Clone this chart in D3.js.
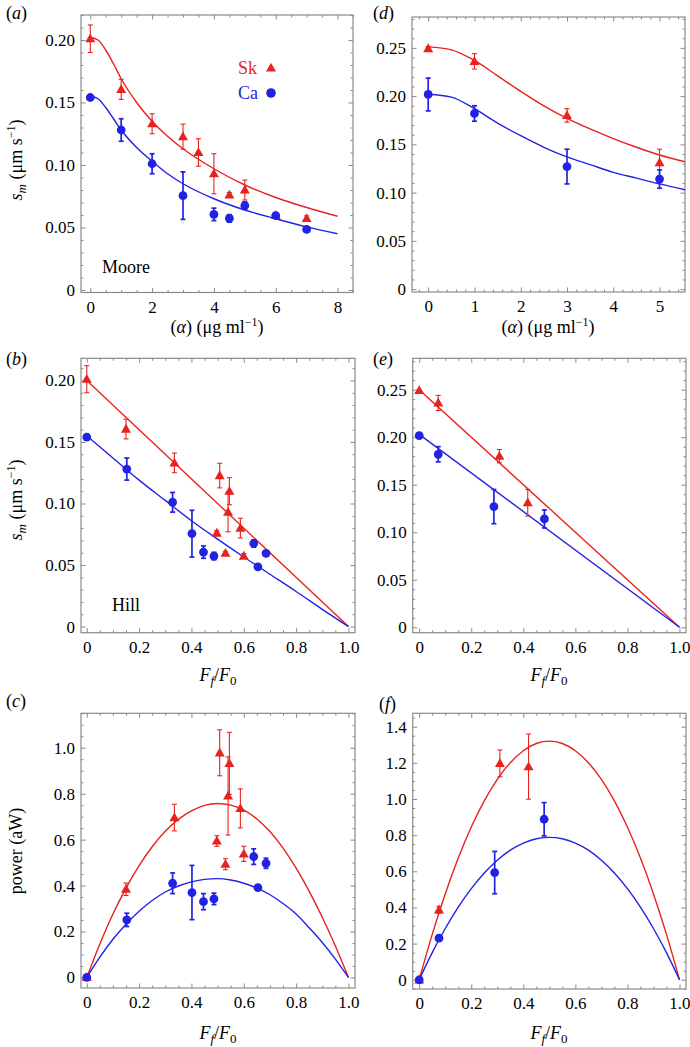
<!DOCTYPE html>
<html><head><meta charset="utf-8">
<script src="https://cdn.jsdelivr.net/npm/d3@7"></script>
<style>
body{margin:0;background:#fff}
svg{display:block}
text{font-family:"Liberation Serif","Times New Roman",serif;fill:#000}
</style>
</head><body>
<svg id="chart" width="690" height="1047" font-family="Liberation Serif"></svg>
<script>
// ---------- DATA ----------
// Panel (a): Moore, speed vs alpha-actinin concentration
const aSkAlpha = [0, 1, 2, 3, 3.5, 4, 4.5, 5, 6, 7];
const skSpeed  = [0.201, 0.1605, 0.133, 0.1227, 0.110, 0.093, 0.076, 0.080, 0.0596, 0.0573];
const skSpeedErr = [0.011, 0.008, 0.008, 0.010, 0.011, 0.016, 0.002, 0.008, 0.0015, 0.002];
const aCaAlpha = [0, 1, 2, 3, 4, 4.5, 5, 6, 7];
const caSpeed  = [0.154, 0.128, 0.101, 0.0755, 0.0605, 0.0573, 0.0675, 0.0595, 0.0485];
const caSpeedErr = [0.001, 0.009, 0.008, 0.019, 0.005, 0.003, 0.003, 0.002, 0.002];
const aCurveAlpha = [0, 0.25, 0.5, 0.75, 1, 1.5, 2, 2.5, 3, 4, 5, 6, 7, 8];
const aSkCurve = [0.202, 0.200, 0.192, 0.181, 0.169, 0.150, 0.135, 0.123, 0.113, 0.097, 0.084, 0.074, 0.066, 0.059];
const aCaCurve = [0.155, 0.153, 0.146, 0.137, 0.128, 0.114, 0.103, 0.093, 0.085, 0.073, 0.064, 0.057, 0.0505, 0.045];

// Panel (b): Hill, speed vs Ff/F0
const bSkF = [0, 0.15, 0.335, 0.508, 0.545, 0.54, 0.497, 0.587, 0.53, 0.6];
const bCaF = [0, 0.153, 0.328, 0.402, 0.446, 0.486, 0.638, 0.685, 0.654];
const bSkLineF = [0, 1];
const bSkLine = [0.2, 0];
const bCaCurveF = [0, 0.1, 0.2, 0.3, 0.4, 0.5, 0.6, 0.7, 0.8, 0.9, 1.0];
const bCaCurve = [0.155, 0.137, 0.119, 0.1025, 0.086, 0.071, 0.0565, 0.0425, 0.0285, 0.014, 0];

// Panel (c): power vs Ff/F0
const cSkPower = [0, 0.384, 0.696, 0.978, 0.932, 0.79, 0.594, 0.736, 0.493, 0.538];
const cSkPowerErr = [0.005, 0.027, 0.058, 0.10, 0.135, 0.17, 0.023, 0.085, 0.024, 0.033];
const cCaPower = [0, 0.2507, 0.41, 0.3696, 0.33, 0.342, 0.526, 0.497, 0.391];
const cCaPowerErr = [0.005, 0.029, 0.045, 0.118, 0.035, 0.025, 0.034, 0.022, 0.01];
const powerCurveF = [0, 0.05, 0.1, 0.15, 0.2, 0.25, 0.3, 0.35, 0.4, 0.45, 0.5, 0.55, 0.6, 0.65, 0.7, 0.75, 0.8, 0.85, 0.9, 0.95, 1.0];
const cSkCurve = [0, 0.146, 0.276, 0.389, 0.487, 0.569, 0.636, 0.688, 0.725, 0.749, 0.757, 0.75, 0.728, 0.69, 0.635, 0.563, 0.476, 0.375, 0.262, 0.137, 0];
const cCaCurve = [0, 0.088, 0.166, 0.232, 0.288, 0.335, 0.372, 0.398, 0.416, 0.427, 0.430, 0.424, 0.410, 0.389, 0.36, 0.322, 0.276, 0.216, 0.152, 0.080, 0];

// Panel (d): Moore, second data set
const dAlpha = [0, 1, 3, 5];
const dSkSpeed = [0.2493, 0.236, 0.180, 0.131];
const dSkSpeedErr = [0.002, 0.008, 0.007, 0.014];
const dCaSpeed = [0.2017, 0.182, 0.127, 0.114];
const dCaSpeedErr = [0.017, 0.008, 0.018, 0.0095];
const dCurveAlpha = [0, 0.5, 1, 1.5, 2, 2.5, 3, 3.5, 4, 4.5, 5, 5.55];
const dSkCurve = [0.251, 0.248, 0.237, 0.221, 0.205, 0.190, 0.177, 0.166, 0.156, 0.147, 0.139, 0.132];
const dCaCurve = [0.202, 0.199, 0.187, 0.172, 0.159, 0.147, 0.137, 0.129, 0.121, 0.115, 0.109, 0.103];

// Panel (e): Hill, second data set
const eSkF = [0, 0.073, 0.308, 0.417];
const eCaF = [0, 0.073, 0.287, 0.481];
const eSkSpeedErr = [0, 0.008, 0.007, 0.014];
const eCaSpeedErr = [0, 0.008, 0.018, 0.0095];
const eLineF = [0, 1];
const eSkLine = [0.25, 0];
const eCaLine = [0.203, 0];

// Panel (f): power, second data set
const fSkF = [0, 0.076, 0.31, 0.42];
const fCaF = [0, 0.076, 0.29, 0.48];
const fSkPower = [0, 0.387, 1.197, 1.179];
const fSkPowerErr = [0.005, 0.019, 0.074, 0.18];
const fCaPower = [0, 0.23, 0.593, 0.888];
const fCaPowerErr = [0.005, 0.01, 0.117, 0.092];
const fSkCurve = [0, 0.251, 0.475, 0.673, 0.845, 0.99, 1.109, 1.201, 1.267, 1.307, 1.32, 1.307, 1.267, 1.201, 1.109, 0.99, 0.845, 0.673, 0.475, 0.251, 0];
const fCaCurve = [0, 0.150, 0.2835, 0.402, 0.504, 0.591, 0.6615, 0.717, 0.756, 0.78, 0.7875, 0.78, 0.756, 0.717, 0.6615, 0.591, 0.504, 0.402, 0.2835, 0.150, 0];

// Tick values
const alphaTicksA = [0, 2, 4, 6, 8];
const alphaTicksD = [0, 1, 2, 3, 4, 5];
const fracTicks = [0, 0.2, 0.4, 0.6, 0.8, 1.0];
const speedTicksA = [0, 0.05, 0.10, 0.15, 0.20];
const speedTicksD = [0, 0.05, 0.10, 0.15, 0.20, 0.25];
const powerTicksC = [0, 0.2, 0.4, 0.6, 0.8, 1.0];
const powerTicksF = [0, 0.2, 0.4, 0.6, 0.8, 1.0, 1.2, 1.4];

// ---------- DRAWING ----------
const RED = "#e8221e", BLUE = "#2222e4", FRAME = "#8a8a8a";
const SERIF = '"Liberation Serif","Times New Roman",serif';
const svg = d3.select("#chart");
svg.append("rect").attr("width", 690).attr("height", 1047).attr("fill", "#fff");

const f2 = v => v === 0 ? "0" : d3.format(".2f")(v);
const f1 = v => v === 0 ? "0" : d3.format(".1f")(v);
const f0 = d3.format("d");

function minorVals(domain, step, majors) {
  const out = [];
  const s = Math.ceil(domain[0] / step - 1e-9), e = Math.floor(domain[1] / step + 1e-9);
  for (let i = s; i <= e; i++) {
    const v = +(i * step).toFixed(6);
    if (!majors.some(m => Math.abs(m - v) < 1e-9)) out.push(v);
  }
  return out;
}

function panel(cfg) {
  const g = svg.append("g");
  const x = d3.scaleLinear().domain(cfg.xd).range([cfg.L, cfg.R]);
  const y = d3.scaleLinear().domain(cfg.yd).range([cfg.B, cfg.T]);
  const xMin = minorVals(cfg.xd, cfg.xStep, cfg.xTicks);
  const yMin = minorVals(cfg.yd, cfg.yStep, cfg.yTicks);
  const MAJ = 4.5, MIN = 2.5;
  function ax(gen, tr, vals, size, fmt, pad) {
    const a = g.append("g").attr("transform", tr)
      .call(gen.tickValues(vals).tickSize(-size).tickSizeOuter(0).tickPadding(pad).tickFormat(fmt));
    a.attr("font-family", SERIF).attr("font-size", 17);
    a.select(".domain").remove();
    a.selectAll("line").attr("stroke", FRAME).attr("stroke-width", 1);
    a.selectAll("text").style("font-family", SERIF).style("font-size", "17px").attr("fill", "#000");
    return a;
  }
  const none = () => "";
  ax(d3.axisBottom(x), `translate(0,${cfg.B})`, cfg.xTicks, MAJ, cfg.xFmt, 8);
  ax(d3.axisBottom(x), `translate(0,${cfg.B})`, xMin, MIN, none, 8);
  ax(d3.axisTop(x), `translate(0,${cfg.T})`, cfg.xTicks, MAJ, none, 3);
  ax(d3.axisTop(x), `translate(0,${cfg.T})`, xMin, MIN, none, 3);
  ax(d3.axisLeft(y), `translate(${cfg.L},0)`, cfg.yTicks, MAJ, cfg.yFmt, 6);
  ax(d3.axisLeft(y), `translate(${cfg.L},0)`, yMin, MIN, none, 6);
  ax(d3.axisRight(y), `translate(${cfg.R},0)`, cfg.yTicks, MAJ, none, 3);
  ax(d3.axisRight(y), `translate(${cfg.R},0)`, yMin, MIN, none, 3);
  g.append("rect").attr("x", cfg.L).attr("y", cfg.T).attr("width", cfg.R - cfg.L).attr("height", cfg.B - cfg.T)
    .attr("fill", "none").attr("stroke", FRAME).attr("stroke-width", 1.2);

  const clipId = "clip" + cfg.id;
  svg.append("clipPath").attr("id", clipId).append("rect")
    .attr("x", cfg.L).attr("y", cfg.T).attr("width", cfg.R - cfg.L).attr("height", cfg.B - cfg.T);
  const plot = g.append("g").attr("clip-path", `url(#${clipId})`);

  // curves
  cfg.curves.forEach(c => {
    const pts = c.xs.map((v, i) => [v, c.ys[i]]);
    plot.append("path").datum(pts)
      .attr("d", d3.line().x(d => x(d[0])).y(d => y(d[1])).curve(d3.curveMonotoneX))
      .attr("fill", "none").attr("stroke", c.color).attr("stroke-width", 1.4);
  });
  // points
  cfg.series.forEach(s => {
    const sg = g.append("g");
    s.xs.forEach((xv, i) => {
      const px = x(xv);
      const e = s.err[i];
      if (e > 0) {
        const y1 = y(s.ys[i] - e), y2 = y(s.ys[i] + e);
        const w = s.shape === "tri" ? 1.1 : 1.7;
        sg.append("line").attr("x1", px).attr("x2", px).attr("y1", y1).attr("y2", y2)
          .attr("stroke", s.color).attr("stroke-width", w);
        [y1, y2].forEach(yy => sg.append("line").attr("x1", px - 2.5).attr("x2", px + 2.5)
          .attr("y1", yy).attr("y2", yy).attr("stroke", s.color).attr("stroke-width", w));
      }
    });
    s.xs.forEach((xv, i) => {
      const px = x(xv), py = y(s.ys[i]);
      if (s.shape === "tri") {
        sg.append("path").attr("d", `M${px - 5},${py + 3.6}L${px + 5},${py + 3.6}L${px},${py - 5.2}Z`).attr("fill", s.color);
      } else {
        sg.append("circle").attr("cx", px).attr("cy", py).attr("r", 4.4).attr("fill", s.color);
      }
    });
  });
  return {x, y, g};
}

// ---------- PANELS ----------
panel({id: "a", L: 81, R: 353, T: 15, B: 292.5, xd: [-0.3, 8.5], yd: [-0.002, 0.22],
  xTicks: alphaTicksA, xStep: 0.5, xFmt: f0, yTicks: speedTicksA, yStep: 0.01, yFmt: f2,
  curves: [{xs: aCurveAlpha, ys: aSkCurve, color: RED}, {xs: aCurveAlpha, ys: aCaCurve, color: BLUE}],
  series: [{xs: aSkAlpha, ys: skSpeed, err: skSpeedErr, color: RED, shape: "tri"},
           {xs: aCaAlpha, ys: caSpeed, err: caSpeedErr, color: BLUE, shape: "circ"}]});

panel({id: "d", L: 412, R: 685, T: 17, B: 292, xd: [-0.35, 5.55], yd: [-0.003, 0.282],
  xTicks: alphaTicksD, xStep: 0.2, xFmt: f0, yTicks: speedTicksD, yStep: 0.01, yFmt: f2,
  curves: [{xs: dCurveAlpha, ys: dSkCurve, color: RED}, {xs: dCurveAlpha, ys: dCaCurve, color: BLUE}],
  series: [{xs: dAlpha, ys: dSkSpeed, err: dSkSpeedErr, color: RED, shape: "tri"},
           {xs: dAlpha, ys: dCaSpeed, err: dCaSpeedErr, color: BLUE, shape: "circ"}]});

panel({id: "b", L: 81, R: 355, T: 358.3, B: 632.7, xd: [-0.022, 1.025], yd: [-0.005, 0.218],
  xTicks: fracTicks, xStep: 0.05, xFmt: f1, yTicks: speedTicksA, yStep: 0.01, yFmt: f2,
  curves: [{xs: bSkLineF, ys: bSkLine, color: RED}, {xs: bCaCurveF, ys: bCaCurve, color: BLUE}],
  series: [{xs: bSkF, ys: skSpeed, err: skSpeedErr, color: RED, shape: "tri"},
           {xs: bCaF, ys: caSpeed, err: caSpeedErr, color: BLUE, shape: "circ"}]});

panel({id: "e", L: 412.7, R: 686, T: 358.3, B: 632.7, xd: [-0.025, 1.025], yd: [-0.0057, 0.283],
  xTicks: fracTicks, xStep: 0.05, xFmt: f1, yTicks: speedTicksD, yStep: 0.01, yFmt: f2,
  curves: [{xs: eLineF, ys: eSkLine, color: RED}, {xs: eLineF, ys: eCaLine, color: BLUE}],
  series: [{xs: eSkF, ys: dSkSpeed, err: eSkSpeedErr, color: RED, shape: "tri"},
           {xs: eCaF, ys: dCaSpeed, err: eCaSpeedErr, color: BLUE, shape: "circ"}]});

panel({id: "c", L: 81, R: 355, T: 713.3, B: 988, xd: [-0.022, 1.025], yd: [-0.046, 1.15],
  xTicks: fracTicks, xStep: 0.05, xFmt: f1, yTicks: powerTicksC, yStep: 0.05, yFmt: f1,
  curves: [{xs: powerCurveF, ys: cSkCurve, color: RED}, {xs: powerCurveF, ys: cCaCurve, color: BLUE}],
  series: [{xs: bSkF, ys: cSkPower, err: cSkPowerErr, color: RED, shape: "tri"},
           {xs: bCaF, ys: cCaPower, err: cCaPowerErr, color: BLUE, shape: "circ"}]});

panel({id: "f", L: 412.7, R: 686, T: 713.3, B: 989, xd: [-0.025, 1.025], yd: [-0.051, 1.474],
  xTicks: fracTicks, xStep: 0.05, xFmt: f1, yTicks: powerTicksF, yStep: 0.05, yFmt: f1,
  curves: [{xs: powerCurveF, ys: fSkCurve, color: RED}, {xs: powerCurveF, ys: fCaCurve, color: BLUE}],
  series: [{xs: fSkF, ys: fSkPower, err: fSkPowerErr, color: RED, shape: "tri"},
           {xs: fCaF, ys: fCaPower, err: fCaPowerErr, color: BLUE, shape: "circ"}]});

// ---------- TEXT ----------
function panelLabel(x, y, letter) {
  const t = svg.append("text").attr("x", x).attr("y", y).style("font-size", "18px");
  t.append("tspan").text("(");
  t.append("tspan").style("font-style", "italic").text(letter);
  t.append("tspan").text(")");
}
panelLabel(6, 19, "a");
panelLabel(373, 19, "d");
panelLabel(6, 365, "b");
panelLabel(373, 365, "e");
panelLabel(6, 707, "c");
panelLabel(379, 710, "f");

function speedTitle(cx, cy) {
  const t = svg.append("text").attr("transform", `translate(${cx},${cy}) rotate(-90)`)
    .attr("text-anchor", "middle").style("font-size", "18px");
  t.append("tspan").style("font-style", "italic").text("s");
  t.append("tspan").style("font-style", "italic").style("font-size", "13px").attr("dy", 4).text("m");
  t.append("tspan").attr("dy", -4).text(" (μm s");
  t.append("tspan").style("font-size", "12px").attr("dy", -7).text("−1");
  t.append("tspan").attr("dy", 7).text(")");
}
speedTitle(22, 160);
speedTitle(22, 500);
svg.append("text").attr("transform", "translate(22,851) rotate(-90)").attr("text-anchor", "middle")
  .style("font-size", "18px").text("power (aW)");

function alphaTitle(cx, by) {
  const t = svg.append("text").attr("x", cx).attr("y", by).attr("text-anchor", "middle").style("font-size", "18px");
  t.append("tspan").text("(");
  t.append("tspan").style("font-style", "italic").text("α");
  t.append("tspan").text(") (μg ml");
  t.append("tspan").style("font-size", "12px").attr("dy", -7).text("−1");
  t.append("tspan").attr("dy", 7).text(")");
}
alphaTitle(217, 333);
alphaTitle(548, 333);

function fracTitle(cx, by) {
  const t = svg.append("text").attr("x", cx).attr("y", by).attr("text-anchor", "middle").style("font-size", "18px");
  t.append("tspan").style("font-style", "italic").text("F");
  t.append("tspan").style("font-style", "italic").style("font-size", "13px").attr("dy", 4).text("f");
  t.append("tspan").attr("dy", -4).text("/");
  t.append("tspan").style("font-style", "italic").text("F");
  t.append("tspan").style("font-size", "13px").attr("dy", 4).text("0");
}
fracTitle(218, 681);
fracTitle(549, 681);
fracTitle(218, 1039);
fracTitle(549, 1039);

// in-plot annotations
svg.append("text").attr("x", 102).attr("y", 273).style("font-size", "18px").text("Moore");
svg.append("text").attr("x", 112).attr("y", 611).style("font-size", "18px").text("Hill");
// legend
svg.append("text").attr("x", 238).attr("y", 74).style("fill", RED).style("font-size", "18px").text("Sk");
svg.append("path").attr("d", "M266,71.6L276,71.6L271,62.8Z").attr("fill", RED);
svg.append("text").attr("x", 238).attr("y", 99).style("fill", BLUE).style("font-size", "18px").text("Ca");
svg.append("circle").attr("cx", 271).attr("cy", 93).attr("r", 4.8).attr("fill", BLUE);
</script>
</body></html>
